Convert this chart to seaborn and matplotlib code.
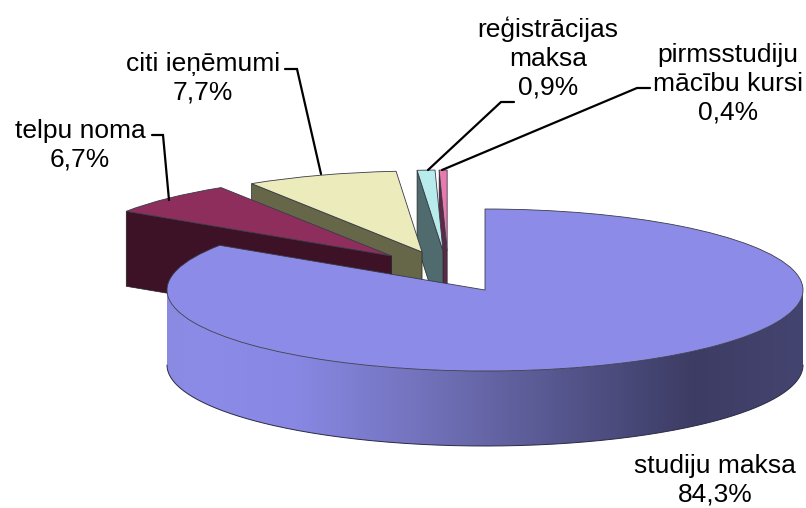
import numpy as np
import matplotlib
matplotlib.use("Agg")
import matplotlib.pyplot as plt
from matplotlib.colors import LinearSegmentedColormap
from matplotlib.lines import Line2D
from matplotlib.patches import Polygon
from matplotlib.transforms import Affine2D
import seaborn as sns

# data
categories = ["studiju maksa", "telpu noma", "citi ieņēmumi", "reģistrācijas maksa", "pirmsstudiju mācību kursi"]
shares = [84.3, 6.7, 7.7, 0.9, 0.4]
label_texts = ["studiju maksa\n84,3%", "telpu noma\n6,7%", "citi ieņēmumi\n7,7%",
               "reģistrācijas\nmaksa\n0,9%", "pirmsstudiju\nmācību kursi\n0,4%"]

# style / layout
W, H = 806, 508
CX, CY, RX, RY = 485, 290, 318, 81
DEPTH = 75 / RY
top_colors = sns.color_palette(["#8C8CE8", "#8E2E5C", "#EBEBBB", "#B8ECEC", "#E87AB0"])
side_colors = sns.color_palette(["#8C8CE8", "#3E1226", "#666648", "#4F6B6E", "#5C2A46"])
offsets = [(0, 0), (-0.294, 0.42), (-0.198, 0.469), (-0.132, 0.481), (-0.119, 0.481)]
label_pos = [(715, 480), (80, 145), (203, 78), (548, 58), (728, 84)]
leaders = [None,
           [(152, 135), (163, 135), (169, 200)],
           [(285, 69), (297, 69), (321, 174)],
           [(514, 102), (501, 102), (428, 170)],
           [(650, 88), (637, 88), (442, 170)]]

sns.set_theme(style="white")
plt.rcParams["font.family"] = ["Liberation Sans", "DejaVu Sans"]

fig = plt.figure(figsize=(W / 100, H / 100), dpi=100)
ax = fig.add_axes([0, 0, 1, 1])
wedges, _ = ax.pie(shares, startangle=90, counterclock=False, colors=top_colors,
                   wedgeprops=dict(edgecolor="#3a3a4a", linewidth=0.6))
ax.set_aspect("auto")
ax.set_xlim(-CX / RX, (W - CX) / RX)
ax.set_ylim((CY - H) / RY, CY / RY)
ax.axis("off")

n = len(shares)
for i, w in enumerate(wedges):
    ox, oy = offsets[i]
    w.set_center((ox, oy))
    z = 2 * (n - i) + 2
    w.set_zorder(z + 1)
    if i == 0:
        continue
    t = np.radians(w.theta2)
    corner = (ox + np.cos(t), oy + np.sin(t))
    face = [(ox, oy), corner, (corner[0], corner[1] - DEPTH), (ox, oy - DEPTH)]
    ax.add_patch(Polygon(face, closed=True, facecolor=side_colors[i],
                         edgecolor="#222222", linewidth=0.5, zorder=z))

# rim of the main slice, shaded across its width
main = wedges[0]
z_main = main.get_zorder() - 1
t = np.radians(np.linspace(max(-180, main.theta1), min(0, main.theta2), 240))
rim = np.column_stack([np.r_[np.cos(t), np.cos(t[::-1])],
                       np.r_[np.sin(t), np.sin(t[::-1]) - DEPTH]])
ax.add_line(Line2D(np.cos(t), np.sin(t) - DEPTH, color="#2a2a44", linewidth=0.7,
                   zorder=z_main + 0.1))
cmap = LinearSegmentedColormap.from_list("rim", [
    (0.00, "#8A8AE2"), (0.05, "#8C8CE8"), (0.20, "#8888E4"), (0.40, "#7272BC"),
    (0.62, "#56568E"), (0.83, "#3C3C64"), (1.00, "#444470")])
img = ax.imshow(np.linspace(0, 1, 400)[None, :], cmap=cmap, aspect="auto",
                extent=(-1, 1, -1.2 - DEPTH, 0.2), zorder=z_main, interpolation="bilinear")
clip = Polygon(rim, closed=True, transform=ax.transData)
img.set_clip_path(clip)
ax.set_xlim(-CX / RX, (W - CX) / RX)
ax.set_ylim((CY - H) / RY, CY / RY)

# labels and leader lines, placed in pixels of the figure
px = Affine2D().scale(1 / W, -1 / H).translate(0, 1) + fig.transFigure
for text, (x, y), leader in zip(label_texts, label_pos, leaders):
    ax.text(x, y, text, transform=px, ha="center", va="center", fontsize=19,
            color="black", linespacing=1.26, zorder=30, clip_on=True)
    if leader:
        xs, ys = zip(*leader)
        ax.add_line(Line2D(xs, ys, transform=px, color="black", linewidth=1.6, zorder=30,
                           solid_joinstyle="miter"))

fig.savefig("out.png", dpi=100, facecolor="white")
